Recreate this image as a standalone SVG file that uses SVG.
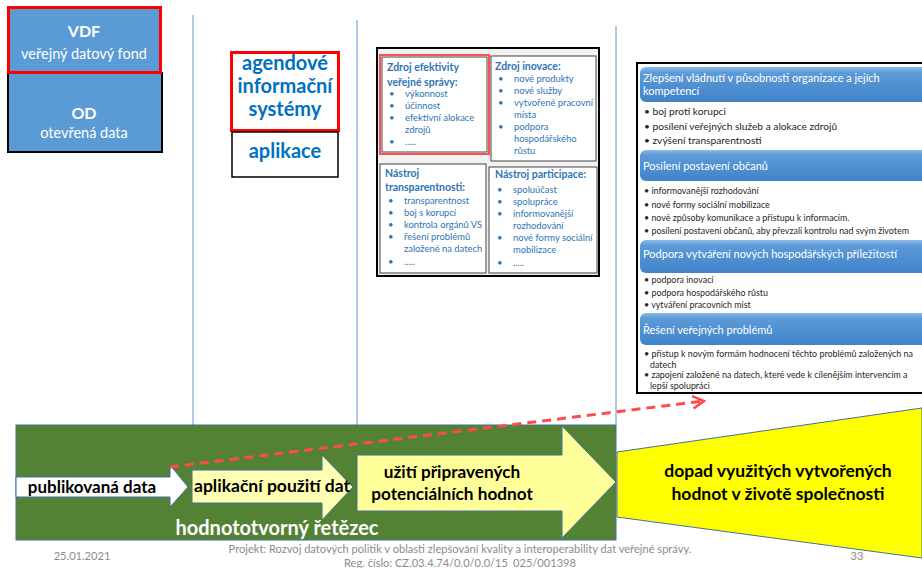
<svg xmlns="http://www.w3.org/2000/svg" width="922" height="568" viewBox="0 0 922 568">
<defs>
<style>
text{font-family:Lato,"Liberation Sans",sans-serif}
.b{font-weight:bold}
.wt{fill:#fff}
.bl{fill:#0070C0}
.th{fill:#2E75B6;font-weight:bold;font-size:10.5px}
.ti{fill:#2E75B6;font-size:9.4px}
.ph{fill:#fff;font-size:11px}
.pb{fill:#262626;font-size:10.2px}
.ps{fill:#262626;font-size:8.9px}
.vl{stroke:#5B9BD5;stroke-width:1}
.ft{fill:#8C8C8C;font-size:11.1px}
.cell{fill:#fff;stroke:#404040;stroke-width:1}
</style>
<linearGradient id="hg" x1="0" y1="0" x2="0" y2="1">
<stop offset="0" stop-color="#8DBBE8"/>
<stop offset="0.15" stop-color="#5E9BD8"/>
<stop offset="1" stop-color="#3F83C8"/>
</linearGradient>
<marker id="ra" viewBox="0 0 12 12" refX="10" refY="6" markerWidth="5" markerHeight="5" orient="auto" markerUnits="strokeWidth">
<path d="M1,1 L10,6 L1,11" fill="none" stroke="#FF4B4B" stroke-width="2"/>
</marker>
</defs>
<rect width="922" height="568" fill="#fff"/>

<g id="guides">
<line class="vl" x1="193" y1="15" x2="193" y2="468"/>
<line class="vl" x1="357" y1="20" x2="357" y2="456"/>
<line class="vl" x1="616" y1="26" x2="616" y2="426"/>
</g>

<g id="vdf">
<rect x="7" y="6" width="155" height="146" fill="#5B9BD5"/>
<rect x="8" y="73" width="154" height="79" fill="none" stroke="#000" stroke-width="2"/>
<rect x="8.5" y="7.5" width="152" height="65" fill="none" stroke="#FF0000" stroke-width="3"/>
<text x="84" y="37" text-anchor="middle" class="b wt" font-size="16">VDF</text>
<text x="84" y="59" text-anchor="middle" class="wt" font-size="14.5">veřejný datový fond</text>
</g>
<g id="od">
<text x="84" y="119" text-anchor="middle" class="b wt" font-size="16">OD</text>
<text x="84" y="138" text-anchor="middle" class="wt" font-size="14.5">otevřená data</text>
</g>

<g id="ais">
<rect x="231.5" y="52.5" width="107" height="78" fill="#fff" stroke="#FF0000" stroke-width="3"/>
<text x="285" y="70" text-anchor="middle" class="b bl" font-size="20">agendové</text>
<text x="285" y="93" text-anchor="middle" class="b bl" font-size="20">informační</text>
<text x="285" y="116" text-anchor="middle" class="b bl" font-size="20">systémy</text>
</g>
<g id="aplikace">
<rect x="232" y="132" width="106" height="45" fill="#fff" stroke="#000" stroke-width="1.5"/>
<text x="285" y="158" text-anchor="middle" class="b bl" font-size="20">aplikace</text>
</g>

<g id="table">
<rect x="377" y="48" width="222" height="228" fill="#F2F2F2" stroke="#000" stroke-width="2"/>
<rect class="cell" x="491" y="56" width="105" height="105"/>
<rect class="cell" x="380" y="164" width="106" height="109"/>
<rect class="cell" x="489" y="167" width="108" height="106"/>
<rect x="380" y="55" width="109" height="99" fill="#fff" stroke="#FF5050" stroke-width="2"/>
<rect x="382" y="57" width="105" height="95" fill="none" stroke="#404040" stroke-width="1"/>
<g id="c1">
<text x="387" y="71" class="th">Zdroj efektivity</text>
<text x="387" y="86" class="th">veřejné správy:</text>
<text x="389" y="97" class="ti">•</text><text x="405" y="97" class="ti">výkonnost</text>
<text x="389" y="109" class="ti">•</text><text x="405" y="109" class="ti">účinnost</text>
<text x="389" y="121" class="ti">•</text><text x="405" y="121" class="ti">efektivní alokace</text>
<text x="405" y="133" class="ti">zdrojů</text>
<text x="389" y="145" class="ti">•</text><text x="405" y="145" class="ti">.....</text>
</g>
<g id="c2">
<text x="495" y="70" class="th">Zdroj inovace:</text>
<text x="498" y="82" class="ti">•</text><text x="514" y="82" class="ti">nové produkty</text>
<text x="498" y="94" class="ti">•</text><text x="514" y="94" class="ti">nové služby</text>
<text x="498" y="106" class="ti">•</text><text x="514" y="106" class="ti">vytvořené pracovní</text>
<text x="514" y="118" class="ti">místa</text>
<text x="498" y="130" class="ti">•</text><text x="514" y="130" class="ti">podpora</text>
<text x="514" y="142" class="ti">hospodářského</text>
<text x="514" y="154" class="ti">růstu</text>
</g>
<g id="c3">
<text x="385" y="177" class="th">Nástroj</text>
<text x="385" y="191" class="th">transparentnosti:</text>
<text x="388" y="204" class="ti">•</text><text x="404" y="204" class="ti">transparentnost</text>
<text x="388" y="216" class="ti">•</text><text x="404" y="216" class="ti">boj s korupcí</text>
<text x="388" y="228" class="ti">•</text><text x="404" y="228" class="ti">kontrola orgánů VS</text>
<text x="388" y="240" class="ti">•</text><text x="404" y="240" class="ti">řešení problémů</text>
<text x="404" y="252" class="ti">založené na datech</text>
<text x="388" y="265" class="ti">•</text><text x="404" y="265" class="ti">.....</text>
</g>
<g id="c4">
<text x="495" y="178" class="th">Nástroj participace:</text>
<text x="497" y="193" class="ti">•</text><text x="513" y="193" class="ti">spoluúčast</text>
<text x="497" y="205" class="ti">•</text><text x="513" y="205" class="ti">spolupráce</text>
<text x="497" y="217" class="ti">•</text><text x="513" y="217" class="ti">informovanější</text>
<text x="513" y="229" class="ti">rozhodování</text>
<text x="497" y="241" class="ti">•</text><text x="513" y="241" class="ti">nové formy sociální</text>
<text x="513" y="253" class="ti">mobilizace</text>
<text x="497" y="266" class="ti">•</text><text x="513" y="266" class="ti">.....</text>
</g>
</g>

<g id="panel">
<rect x="637" y="63" width="290" height="330" fill="#fff" stroke="#000" stroke-width="2"/>
<g id="h1">
<rect x="640" y="67" width="290" height="35" rx="6" fill="url(#hg)"/>
<text x="643" y="82" class="ph">Zlepšení vládnutí v působnosti organizace a jejích</text>
<text x="643" y="95" class="ph">kompetencí</text>
<text x="644" y="115" class="pb">• boj proti korupci</text>
<text x="644" y="130" class="pb">• posílení veřejných služeb a alokace zdrojů</text>
<text x="644" y="144" class="pb">• zvýšení transparentnosti</text>
</g>
<g id="h2">
<rect x="640" y="150" width="290" height="31" rx="6" fill="url(#hg)"/>
<text x="643" y="170" class="ph">Posílení postavení občanů</text>
<text x="644" y="194" class="ps">• informovanější rozhodování</text>
<text x="644" y="208" class="ps">• nové formy sociální mobilizace</text>
<text x="644" y="221" class="ps">• nové způsoby komunikace a přístupu k informacím.</text>
<text x="644" y="234" class="ps">• posílení postavení občanů, aby převzali kontrolu nad svým životem</text>
</g>
<g id="h3">
<rect x="640" y="240" width="290" height="33" rx="6" fill="url(#hg)"/>
<text x="643" y="258" class="ph">Podpora vytváření nových hospodářských příležitostí</text>
<text x="644" y="283" class="ps">• podpora inovací</text>
<text x="644" y="296" class="ps">• podpora hospodářského růstu</text>
<text x="644" y="308" class="ps">• vytváření pracovních míst</text>
</g>
<g id="h4">
<rect x="640" y="313" width="290" height="32" rx="6" fill="url(#hg)"/>
<text x="643" y="334" class="ph">Řešení veřejných problémů</text>
<text x="644" y="357" class="ps">• přístup k novým formám hodnocení těchto problémů založených na</text>
<text x="650" y="368" class="ps">datech</text>
<text x="644" y="378" class="ps">• zapojení založené na datech, které vede k cílenějším intervencím a</text>
<text x="650" y="389" class="ps">lepší spolupráci</text>
</g>
</g>

<g id="chain">
<rect x="16" y="425" width="600" height="115" fill="#548235" stroke="#41719C" stroke-width="1"/>
<text x="277" y="535" text-anchor="middle" class="b wt" font-size="20">hodnototvorný řetězec</text>
</g>

<g id="dopad">
<path d="M617,452 L922,408 L922,558 L617,517 Z" fill="#FFFF00" stroke="#41719C" stroke-width="1"/>
<text x="778" y="477" text-anchor="middle" class="b" font-size="17.5" fill="#000">dopad využitých vytvořených</text>
<text x="778" y="500" text-anchor="middle" class="b" font-size="17.5" fill="#000">hodnot v životě společnosti</text>
</g>

<g id="uziti">
<path d="M357,455 L562,455 L562,426 L616,482 L562,538 L562,511 L357,511 Z" fill="#FFFF99" stroke="#41719C" stroke-width="1"/>
<text x="452" y="478" text-anchor="middle" class="b" font-size="17.2" fill="#000">užití připravených</text>
<text x="452" y="500" text-anchor="middle" class="b" font-size="17.2" fill="#000">potenciálních hodnot</text>
</g>

<g id="aplikacni">
<path d="M192,470 L322,470 L322,455 L353,487 L322,520 L322,503 L192,503 Z" fill="#FFFFB3" stroke="#41719C" stroke-width="1"/>
<text x="272" y="492" text-anchor="middle" class="b" font-size="17.5" fill="#000">aplikační použití dat</text>
</g>

<g id="publikovana">
<path d="M16,477 L170,477 L170,465 L188,487 L170,507 L170,497 L16,497 Z" fill="#fff" stroke="#41719C" stroke-width="1"/>
<text x="92" y="493" text-anchor="middle" class="b" font-size="17" fill="#000">publikovaná data</text>
</g>

<g id="connectors">
<line x1="170" y1="467" x2="704" y2="401" stroke="#FF4B4B" stroke-width="3" stroke-dasharray="9,6" marker-end="url(#ra)"/>
</g>

<g id="footer">
<text x="82" y="560" text-anchor="middle" class="ft">25.01.2021</text>
<text x="460" y="553" text-anchor="middle" class="ft">Projekt: Rozvoj datových politik v oblasti zlepšování kvality a interoperability dat veřejné správy.</text>
<text x="460" y="567" text-anchor="middle" class="ft">Reg. číslo: CZ.03.4.74/0.0/0.0/15_025/001398</text>
<text x="857" y="560" text-anchor="middle" class="ft">33</text>
</g>
</svg>
